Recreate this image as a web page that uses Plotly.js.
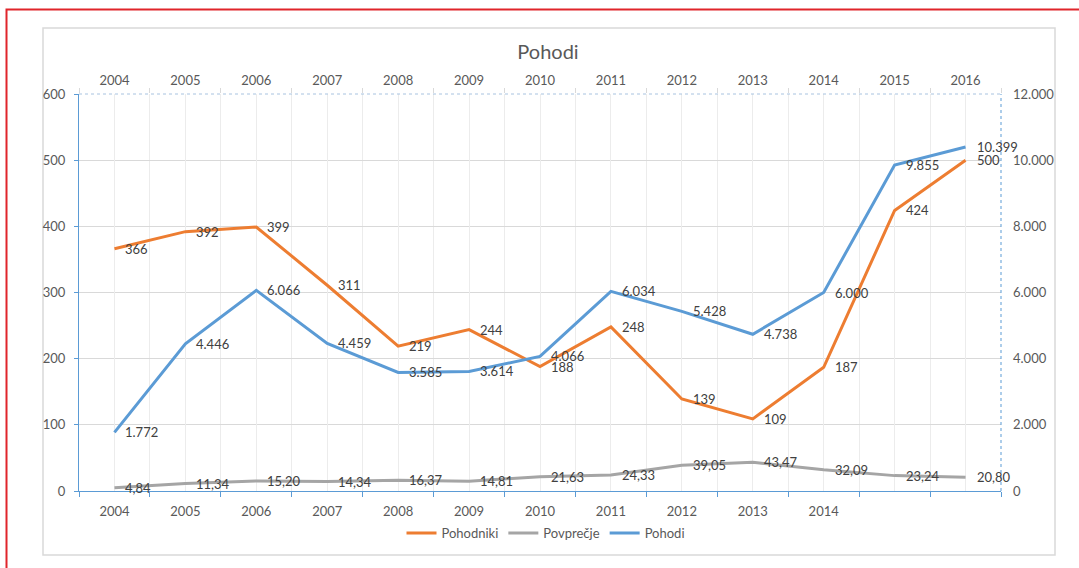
<!DOCTYPE html>
<html>
<head>
<meta charset="utf-8">
<script src="https://cdn.plot.ly/plotly-3.0.1.min.js"></script>
<style>html,body{margin:0;padding:0;background:#fff;}#chart{width:1079px;height:568px;}</style>
</head>
<body>
<div id="chart"></div>
<script>
const years = ['2004','2005','2006','2007','2008','2009','2010','2011','2012','2013','2014','2015','2016'];
const bottomLabels = ['2004','2005','2006','2007','2008','2009','2010','2011','2012','2013','2014'];
const pohodniki = [366, 392, 399, 311, 219, 244, 188, 248, 139, 109, 187, 424, 500];
const povprecje = [4.84, 11.34, 15.20, 14.34, 16.37, 14.81, 21.63, 24.33, 39.05, 43.47, 32.09, 23.24, 20.80];
const pohodi = [1772, 4446, 6066, 4459, 3585, 3614, 4066, 6034, 5428, 4738, 6000, 9855, 10399];

const X = years.map(Number);
const FONT = 'Lato, "Open Sans", sans-serif';
const C_OR = '#ed7d31', C_GR = '#a5a5a5', C_BL = '#5b9bd5';

function thousands(v){ return String(v).replace(/\B(?=(\d{3})+(?!\d))/g, '.'); }

const traces = [
  {x: X, y: pohodniki, name: 'Pohodniki', type: 'scatter', mode: 'lines',
   line: {color: C_OR, width: 3}, xaxis: 'x', yaxis: 'y'},
  {x: X, y: povprecje, name: 'Povprečje', type: 'scatter', mode: 'lines',
   line: {color: C_GR, width: 3}, xaxis: 'x', yaxis: 'y'},
  {x: X, y: pohodi, name: 'Pohodi', type: 'scatter', mode: 'lines',
   line: {color: C_BL, width: 3}, xaxis: 'x2', yaxis: 'y2'}
];

const annFont = {family: FONT, size: 13, color: '#404040'};
const annotations = [];
function addLabels(vals, fmt, xref, yref){
  vals.forEach((v, i) => annotations.push({
    x: X[i], y: v, xref: xref, yref: yref, text: fmt(v), showarrow: false,
    xanchor: 'left', yanchor: 'middle', xshift: 9, font: annFont
  }));
}
addLabels(pohodniki, v => String(v), 'x', 'y');
addLabels(povprecje, v => v.toFixed(2).replace('.', ','), 'x', 'y');
addLabels(pohodi, v => thousands(v), 'x2', 'y2');

const tickFont = {family: FONT, size: 13, color: '#595959'};
const xr = [X[0] - 0.5, X[X.length - 1] + 0.5];

const layout = {
  width: 1079, height: 568,
  margin: {l: 79, r: 78, t: 94, b: 77, pad: 0},
  paper_bgcolor: '#ffffff', plot_bgcolor: '#ffffff',
  separators: ',.',
  font: {family: FONT, color: '#595959'},
  title: {text: 'Pohodi', font: {family: FONT, size: 20, color: '#595959'},
          x: (548 - 79) / 922, xref: 'paper', xanchor: 'center', y: 1 - 52 / 568, yanchor: 'middle'},
  showlegend: true,
  legend: {orientation: 'h', x: (546 - 79) / 922, xanchor: 'center', y: (491 - 533) / 397, yanchor: 'middle',
           font: {family: FONT, size: 13, color: '#595959'}, traceorder: 'normal'},
  xaxis: {
    type: 'linear', range: xr, tickmode: 'array', tickvals: bottomLabels.map(Number), ticktext: bottomLabels,
    ticks: '', showgrid: false, zeroline: false, tickfont: tickFont, ticklabelstandoff: 8,
    showline: true, linecolor: C_BL, linewidth: 1,
    minor: {tickmode: 'linear', tick0: xr[0], dtick: 1, ticks: 'outside', ticklen: 5, tickcolor: C_BL,
            showgrid: true, gridcolor: '#ececec', gridwidth: 1}
  },
  xaxis2: {
    type: 'linear', range: xr, overlaying: 'x', side: 'top', anchor: 'y2',
    tickmode: 'array', tickvals: X, ticktext: years, ticks: '', tickfont: tickFont, ticklabelstandoff: 5,
    showgrid: true, gridcolor: '#ececec', gridwidth: 1, zeroline: false, showline: false,
    minor: {tickmode: 'linear', tick0: xr[0], dtick: 1, ticks: 'outside', ticklen: 5, tickcolor: '#d9d9d9',
            showgrid: false}
  },
  yaxis: {
    range: [0, 600], tickmode: 'linear', tick0: 0, dtick: 100, tickfont: tickFont,
    ticks: 'outside', ticklen: 4, tickcolor: C_BL, ticklabelstandoff: 6,
    showgrid: true, gridcolor: '#d9d9d9', gridwidth: 1, zeroline: false,
    showline: true, linecolor: C_BL, linewidth: 1
  },
  yaxis2: {
    range: [0, 12000], tickmode: 'linear', tick0: 0, dtick: 2000, tickformat: ',', tickfont: tickFont,
    overlaying: 'y', side: 'right', anchor: 'x2', ticks: '', ticklabelstandoff: 11,
    showgrid: false, zeroline: false, showline: false
  },
  annotations: annotations,
  shapes: [
    {type: 'rect', xref: 'paper', yref: 'paper', layer: 'below',
     x0: (43 - 79) / 922, x1: (1055 - 79) / 922, y0: (491 - 555) / 397, y1: (491 - 28) / 397,
     line: {color: '#d9d9d9', width: 1.5}},
    {type: 'rect', xref: 'paper', yref: 'paper', layer: 'below',
     x0: (6.5 - 79) / 922, x1: (1095 - 79) / 922, y0: (491 - 590) / 397, y1: (491 - 9.5) / 397,
     line: {color: '#e0252b', width: 2}},
    {type: 'line', xref: 'paper', yref: 'paper', x0: 1, x1: 1, y0: 0, y1: 1,
     line: {color: C_BL, width: 1, dash: 'dot'}},
    {type: 'line', xref: 'paper', yref: 'paper', x0: 0, x1: 1, y0: 1, y1: 1,
     line: {color: '#a8c3e0', width: 1, dash: 'dot'}}
  ]
};

Plotly.newPlot('chart', traces, layout, {displayModeBar: false, staticPlot: true});
</script>
</body>
</html>
